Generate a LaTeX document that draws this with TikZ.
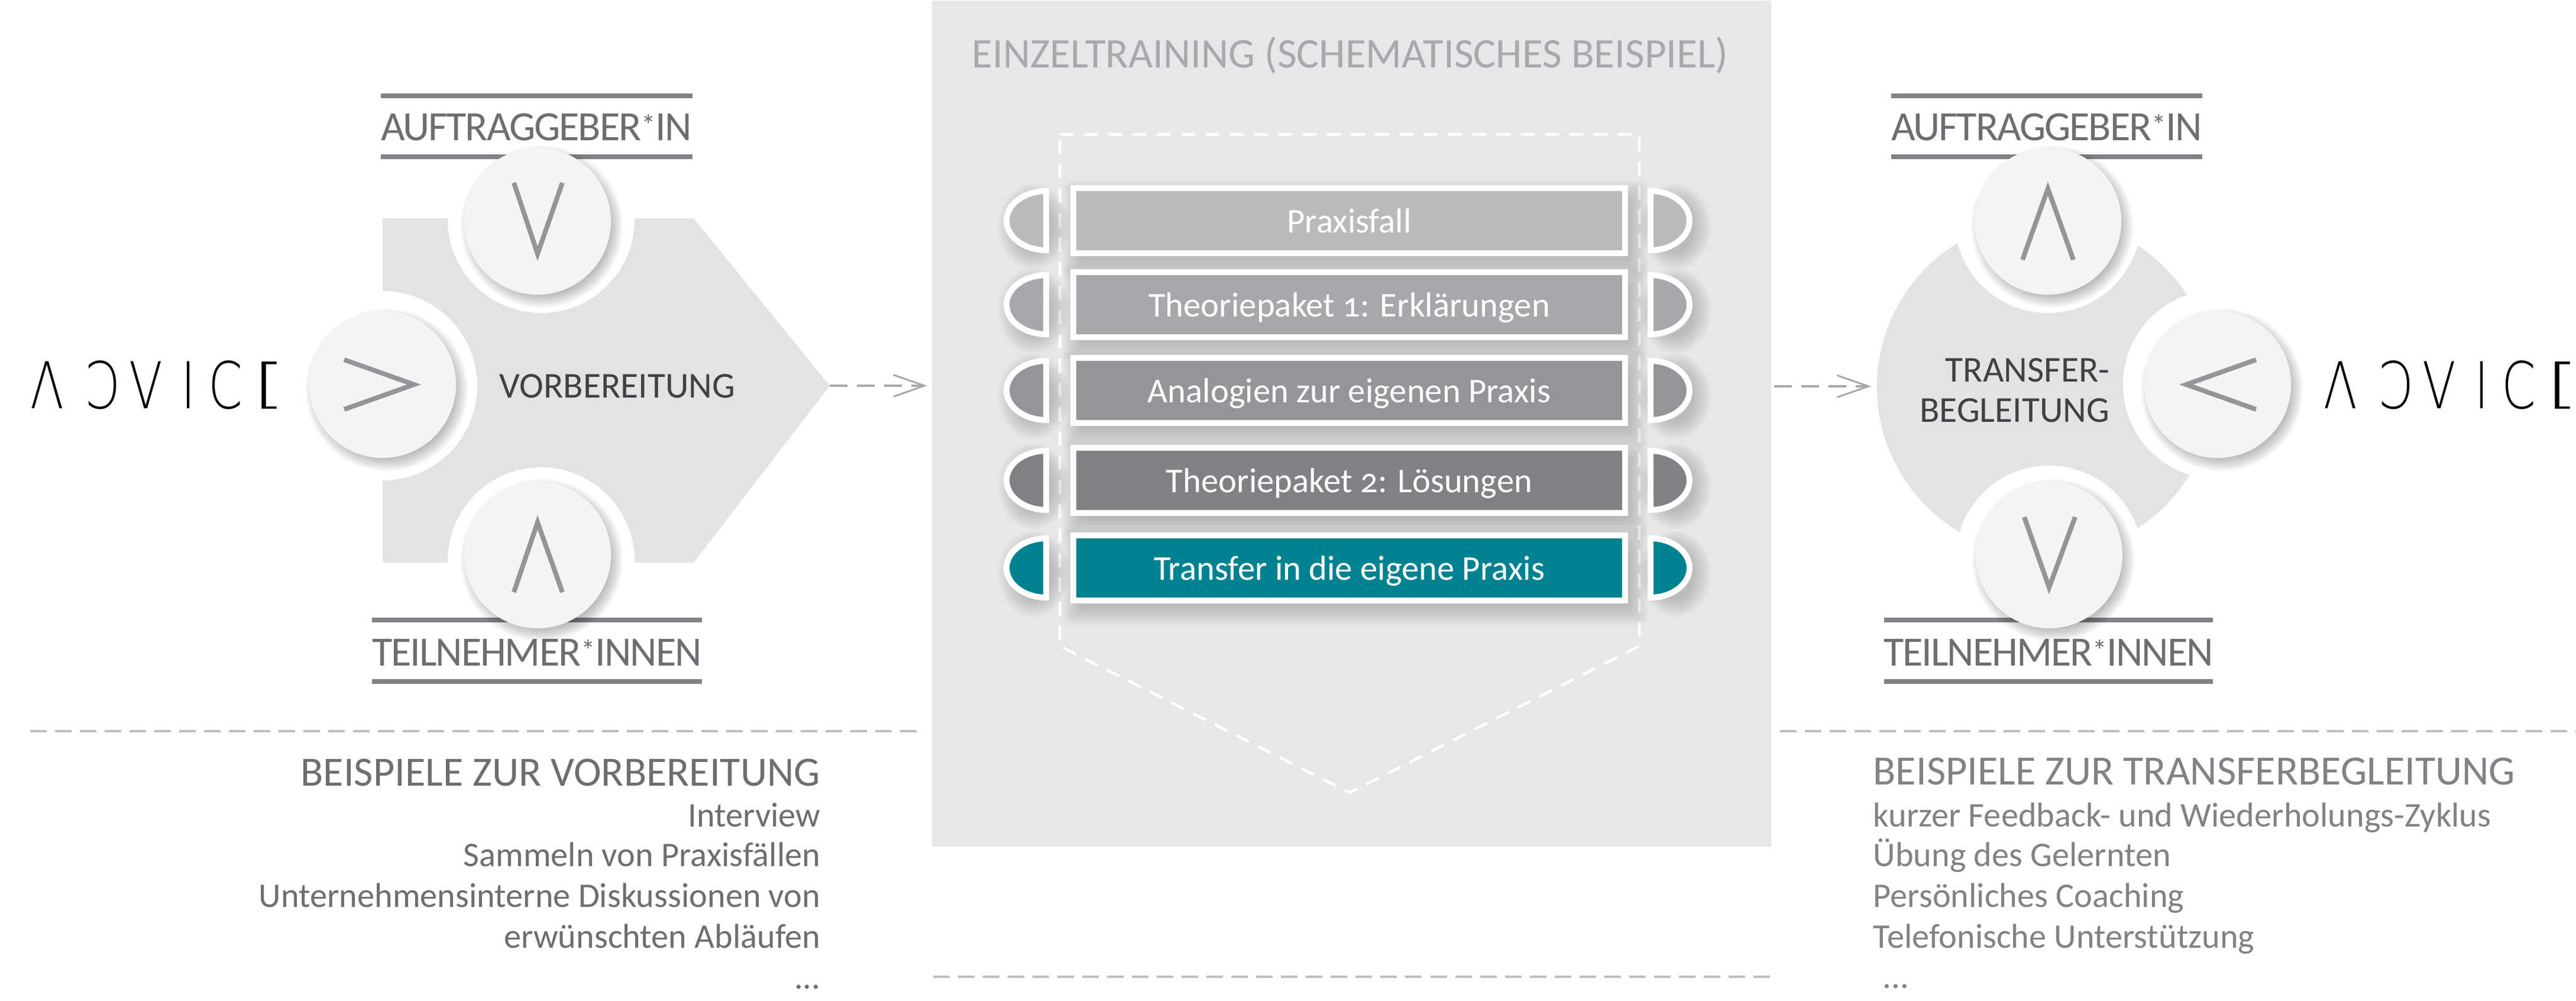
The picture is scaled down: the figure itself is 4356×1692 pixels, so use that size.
\documentclass[tikz,border=0pt]{standalone}
\usepackage{fontspec}
\usepackage{graphicx}
\usepackage{xcolor}
\usetikzlibrary{arrows.meta}
\setmainfont{Carlito}[Numbers=OldStyle]
\newfontfamily\logofont{DejaVu Sans ExtraLight}

\definecolor{panelgray}{HTML}{E6E7E8}
\definecolor{shapegray}{HTML}{E1E3E5}
\definecolor{discgray}{HTML}{F4F4F4}
\definecolor{markgray}{HTML}{939598}
\definecolor{rulegray}{HTML}{808285}
\definecolor{labelgray}{HTML}{6D6E71}
\definecolor{darkgray}{HTML}{414042}
\definecolor{titlegray}{HTML}{A7A9AC}
\definecolor{dashgray}{HTML}{BCBEC0}
\definecolor{rowa}{HTML}{B9BABC}
\definecolor{rowb}{HTML}{A7A8AB}
\definecolor{rowc}{HTML}{939598}
\definecolor{rowd}{HTML}{808184}
\definecolor{rowe}{HTML}{008290}

\newcommand{\logoglyph}[2]{\makebox[#1pt][l]{\scalebox{.76}[1]{#2}}}
\newcommand{\logoword}{\logofont\logoglyph{26.2}{Λ}\logoglyph{21.3}{Ɔ}\logoglyph{25}{V}\logoglyph{13.1}{I}\logoglyph{25.6}{C}\hspace{-5pt}\raisebox{3.3pt}{\scalebox{1.4}[.82]{[}}}
\newcommand{\starmark}{\raisebox{.28ex}{\scalebox{.7}{*}}}
\newcommand{\softdisc}[3]{\foreach \k in {-8,-5,...,13}{\fill[black,opacity=.035] (#1+7,#2+9) circle (#3+\k);}}
\newcommand{\softcap}[2]{\foreach \k in {-6,-2,...,22}{\fill[black,opacity=.022] (#1+8,#2+10) ellipse ({38+\k} and {50+\k});}}
\newcommand{\softbox}[2]{\foreach \k in {-6,-2,...,22}{\fill[black,opacity=.025,rounded corners=.1cm] (1810+10-\k,#1+14-\k) rectangle (2753+10+\k,#2+14+\k);}}

\tikzset{
    disc/.style={circle,fill=discgray,inner sep=0pt,minimum size=2.48cm},
    chevron/.style={draw=markgray,line width=.08cm,miter limit=20},
    rulebar/.style={draw=rulegray,line width=.08cm},
    dashbar/.style={draw=dashgray,line width=.047cm,dash pattern=on .28cm off .14cm},
    flowarrow/.style={draw=titlegray,line width=.045cm,dash pattern=on .3cm off .16cm,
        -{Straight Barb[length=.53cm,width=.37cm,line width=.03cm]}},
    rowbox/.style={draw=white,line width=.1cm,minimum width=9.33cm,minimum height=1.1cm,
        text=white,font=\fontsize{16.7}{20}\selectfont,text height=.40cm,text depth=0pt,inner sep=0pt},
    halfcap/.style={draw=white,line width=.1cm,fill=#1},
    rolelabel/.style={text=labelgray,font=\fontsize{20}{22}\selectfont\addfontfeature{LetterSpace=-3},inner sep=0pt},
    headlabel/.style={text=darkgray,font=\fontsize{17.5}{20}\selectfont,inner sep=0pt},
    exhead/.style={font=\fontsize{20}{22}\selectfont,inner sep=0pt},
    exline/.style={font=\fontsize{16.6}{20}\selectfont,inner sep=0pt}
}

\begin{document}
\begin{tikzpicture}[x=.01cm,y=-.01cm]
    \useasboundingbox (0,0) rectangle (4356,1692);

    \node[fill=panelgray,minimum width=14.18cm,minimum height=14.29cm,inner sep=0pt,anchor=north west] (panel) at (1575,0) {};
    \node[text=titlegray,font=\fontsize{20.25}{22}\selectfont,inner sep=0pt] (title) at (2283,93) {EINZELTRAINING (SCHEMATISCHES BEISPIEL)};

    \draw[white,line width=.047cm,dash pattern=on .24cm off .17cm] (1792,227) -- (2772,227) -- (2772,1092) -- (2282,1340) -- (1792,1092) -- cycle;

    \foreach \n/\ypos/\shade/\rowtext in {
        1/373/rowa/Praxisfall,
        2/515/rowb/Theoriepaket 1: Erklärungen,
        3/660/rowc/Analogien zur eigenen Praxis,
        4/812/rowd/Theoriepaket 2: Lösungen,
        5/960/rowe/Transfer in die eigene Praxis}{
        \softbox{\ypos-60}{\ypos+60}
        \softcap{1740}{\ypos}
        \softcap{2825}{\ypos}
        \draw[halfcap=\shade] (1769,\ypos-50) arc[start angle=270,end angle=90,x radius=67,y radius=50] -- cycle;
        \draw[halfcap=\shade] (2791,\ypos-50) arc[start angle=-90,end angle=90,x radius=66,y radius=50] -- cycle;
        \node[rowbox,fill=\shade] (row\n) at (2281.5,\ypos) {\rowtext};
    }

    \fill[shapegray] (647,369) -- (1173,369) -- (1403,652) -- (1173,951) -- (647,951) -- cycle;
    \coordinate (vorbTip) at (1403,652);
    \coordinate (panelIn) at (1568,652);
    \fill[white] (915,371) circle (158);
    \fill[white] (915,948) circle (158);
    \fill[white] (647,652) circle (160);
    \node[headlabel] (vorb) at (1044,653) {VORBEREITUNG};
    \draw[flowarrow] (vorbTip) -- (panelIn);

    \draw[rulebar] (644,162) -- (1171,162);
    \draw[rulebar] (644,265) -- (1171,265);
    \node[rolelabel] (auftragL) at (907,215) {AUFTRAGGEBER\starmark IN};
    \draw[rulebar] (629,1048) -- (1187,1048);
    \draw[rulebar] (629,1152) -- (1187,1152);
    \node[rolelabel] (teilnL) at (908,1103) {TEILNEHMER\starmark INNEN};

    \softdisc{909}{374}{124}
    \softdisc{647}{650}{124}
    \softdisc{909}{938}{124}
    \node[disc] (discTopL) at (909,374) {};
    \node[disc] (discMidL) at (647,650) {};
    \node[disc] (discBotL) at (909,938) {};
    \draw[chevron] (869,309) -- (909,429) -- (951,309);
    \draw[chevron] (582,608) -- (700,650) -- (582,692);
    \draw[chevron] (869,1001) -- (909,883) -- (951,1001);

    \node[inner sep=0pt,anchor=base west,font=\fontsize{31}{31}\selectfont,text=black] (logoL) at (51,691) {\logoword};

    \node[circle,fill=shapegray,inner sep=0pt,minimum size=5.7cm] (transfer) at (3459,654) {};
    \coordinate (panelOut) at (3000,653);
    \fill[white] (3463,371) circle (158);
    \fill[white] (3465,945) circle (158);
    \fill[white] (3750,650) circle (160);
    \node[headlabel,anchor=base east] (transA) at (3568,646) {TRANSFER-};
    \node[headlabel,anchor=base east] (transB) at (3568,714) {BEGLEITUNG};
    \draw[flowarrow,shorten >=.09cm] (panelOut) -- (panelOut -| transfer.west);

    \draw[rulebar] (3198,162) -- (3724,162);
    \draw[rulebar] (3198,265) -- (3724,265);
    \node[rolelabel] (auftragR) at (3461,215) {AUFTRAGGEBER\starmark IN};
    \draw[rulebar] (3186,1048) -- (3742,1048);
    \draw[rulebar] (3186,1152) -- (3742,1152);
    \node[rolelabel] (teilnR) at (3464,1103) {TEILNEHMER\starmark INNEN};

    \softdisc{3463}{374}{124}
    \softdisc{3750}{650}{124}
    \softdisc{3465}{938}{124}
    \node[disc] (discTopR) at (3463,374) {};
    \node[disc] (discMidR) at (3750,650) {};
    \node[disc] (discBotR) at (3465,938) {};
    \draw[chevron] (3420,439) -- (3463,319) -- (3506,439);
    \draw[chevron] (3815,608) -- (3697,650) -- (3815,692);
    \draw[chevron] (3423,874) -- (3465,993) -- (3509,874);

    \node[inner sep=0pt,anchor=base west,font=\fontsize{31}{31}\selectfont,text=black] (logoR) at (3929,691) {\logoword};

    \draw[dashbar] (51,1236) -- (1551,1236);
    \draw[dashbar] (3010,1236) -- (4356,1236);
    \draw[dashbar] (1578,1651) -- (2996,1651);

    \node[exhead,text=labelgray,anchor=base east] (vorbHead) at (1388,1328) {BEISPIELE ZUR VORBEREITUNG};
    \node[exline,text=labelgray,anchor=base east] (vorbA) at (1388,1397) {Interview};
    \node[exline,text=labelgray,anchor=base east] (vorbB) at (1388,1465) {Sammeln von Praxisfällen};
    \node[exline,text=labelgray,anchor=base east] (vorbC) at (1388,1534) {Unternehmensinterne Diskussionen von};
    \node[exline,text=labelgray,anchor=base east] (vorbD) at (1388,1602) {erwünschten Abläufen};
    \node[exline,text=labelgray,anchor=base east] (vorbE) at (1388,1671) {...};

    \node[exhead,text=rulegray,anchor=base west] (transHead) at (3167,1327) {BEISPIELE ZUR TRANSFERBEGLEITUNG};
    \node[exline,text=rulegray,anchor=base west] (transC) at (3167,1397) {kurzer Feedback- und Wiederholungs-Zyklus};
    \node[exline,text=rulegray,anchor=base west] (transD) at (3167,1465) {Übung des Gelernten};
    \node[exline,text=rulegray,anchor=base west] (transE) at (3167,1533) {Persönliches Coaching};
    \node[exline,text=rulegray,anchor=base west] (transF) at (3167,1602) {Telefonische Unterstützung};
    \node[exline,text=rulegray,anchor=base west] (transG) at (3183,1670) {...};
\end{tikzpicture}
\end{document}
